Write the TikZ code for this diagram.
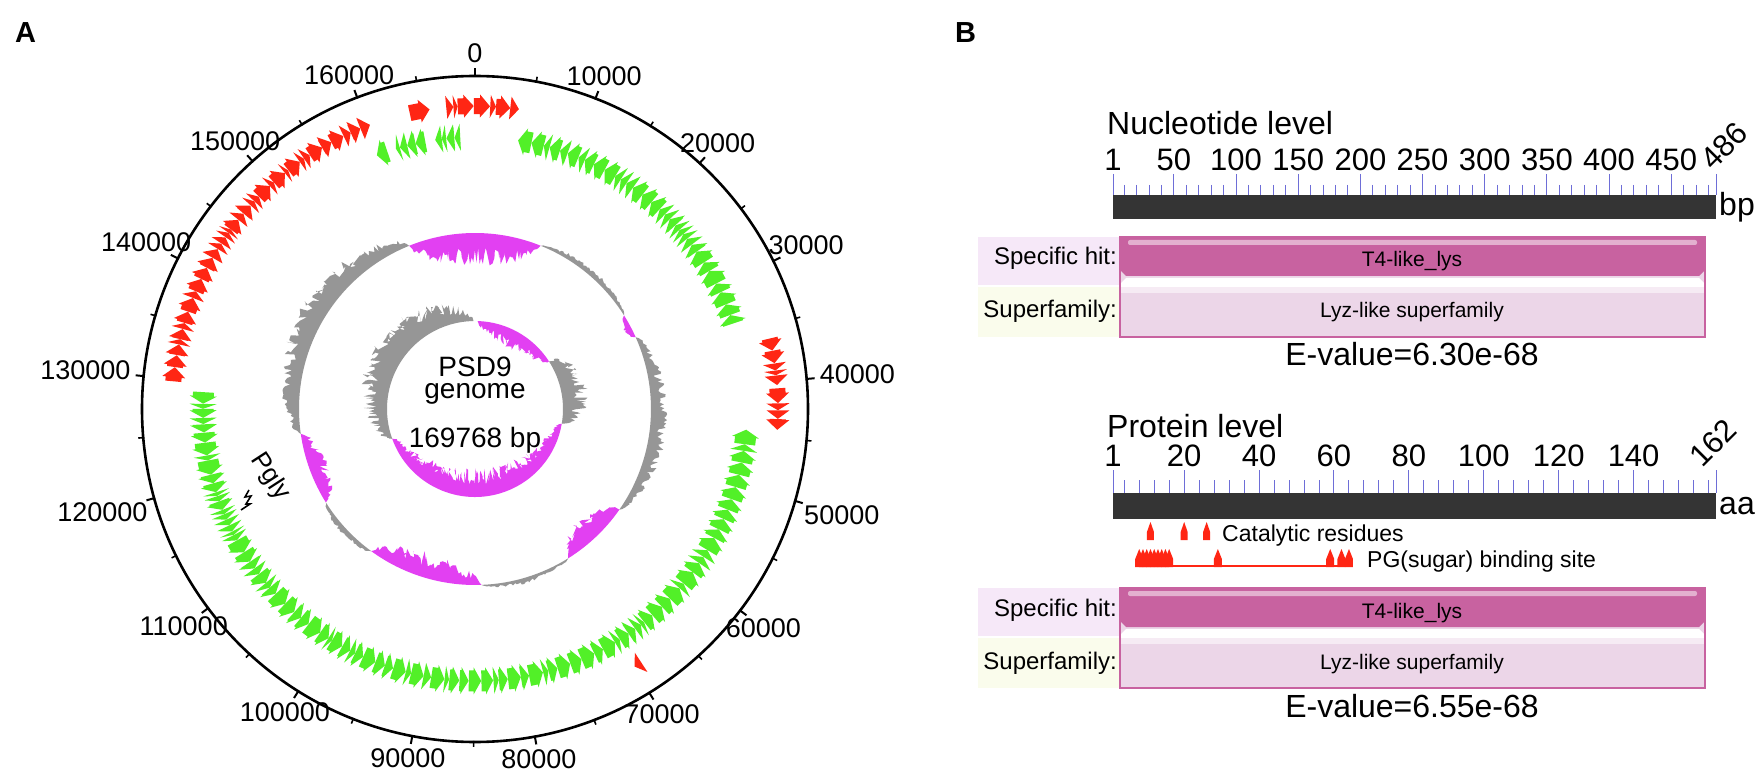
\documentclass[tikz,border=0pt]{standalone}
\usepackage{fontspec}
\setmainfont{Liberation Sans}
\usetikzlibrary{positioning}
\definecolor{genered}{RGB}{255,38,20}
\definecolor{genegreen}{RGB}{82,240,40}
\definecolor{gcgray}{RGB}{150,150,150}
\definecolor{gcmagenta}{RGB}{226,64,242}
\definecolor{hitpink}{RGB}{200,98,160}
\definecolor{hitlight}{RGB}{236,214,232}
\definecolor{hitlabel}{RGB}{246,232,248}
\definecolor{superlabel}{RGB}{250,252,236}
\definecolor{rulerblue}{RGB}{110,110,215}
\definecolor{bardark}{RGB}{52,52,52}

% gradi per kbp (360/169.768)
\newcommand{\degkb}{2.120541}
% pixel per bp e per aa sui righelli
\newcommand{\pxbp}{1.243299}
\newcommand{\pxaa}{3.745342}
% freccia di un gene: inizio, fine (kbp), raggio, verso (1 orario, -1 antiorario)
\newcommand{\genearrow}[4]{%
  \pgfmathsetmacro\ga{(#1)*\degkb-90}%
  \pgfmathsetmacro\gb{(#2)*\degkb-90}%
  \pgfmathsetmacro\gh{min(\headlen,\gb-\ga)}%
  \ifnum#4>0
    \pgfmathsetmacro\gtip{\gb}\pgfmathsetmacro\gbase{\gb-\gh}\pgfmathsetmacro\gtail{\ga}%
  \else
    \pgfmathsetmacro\gtip{\ga}\pgfmathsetmacro\gbase{\ga+\gh}\pgfmathsetmacro\gtail{\gb}%
  \fi
  \pgfmathsetmacro\rbo{#3+\bodyw}\pgfmathsetmacro\rbi{#3-\bodyw}%
  \pgfmathsetmacro\rhout{#3+\headw}\pgfmathsetmacro\rhin{#3-\headw}%
  \fill (\gtail:\rbo) arc[start angle=\gtail, end angle=\gbase, radius=\rbo]
    -- (\gbase:\rhout) -- (\gtip:#3) -- (\gbase:\rhin) -- (\gbase:\rbi)
    arc[start angle=\gbase, end angle=\gtail, radius=\rbi] -- cycle;%
}
% serie di geni contigui
\newcommand{\generun}[4]{%
  \pgfmathsetmacro\gpos{#1}%
  \loop
    \pgfmathsetmacro\gnext{min(\gpos+0.35+1.1*rnd,#2)}%
    \genearrow{\gpos}{\gnext}{#3}{#4}%
    \pgfmathsetmacro\gpos{\gnext+0.03*rnd}%
  \ifdim\gpos pt<#2pt\repeat
}
% banda GC: inizio, fine (kbp), raggio base, altezza (con segno), colore
\newcommand{\gcband}[5]{%
  \pgfmathsetmacro\gca{(#1)*\degkb-90}%
  \pgfmathsetmacro\gcb{(#2)*\degkb-90}%
  \pgfmathtruncatemacro\gcn{(\gcb-\gca)/0.6+2}%
  \fill[#5] (\gca:#3) -- plot[domain=\gca:\gcb, samples=\gcn]
    (\x:{#3+(#4)*(0.4+0.6*rnd)*sqrt(abs(sin((\x-\gca)/(\gcb-\gca)*180)))})
    -- (\gcb:#3) arc[start angle=\gcb, end angle=\gca, radius=#3] -- cycle;%
}

\begin{document}
\begin{tikzpicture}[x=1pt, y=1pt, yscale=-1,
    % --- stili ---
    panel_label/.style={font=\fontsize{29}{32}\selectfont\bfseries, anchor=north west, inner sep=0},
    tick_label/.style={font=\fontsize{27}{30}\selectfont, inner sep=1pt},
    centre_text/.style={font=\fontsize{28}{30}\selectfont, anchor=base, inner sep=0},
    ruler_num/.style={font=\fontsize{31}{34}\selectfont, anchor=base, inner sep=0},
    level_title/.style={font=\fontsize{32}{35}\selectfont, anchor=base west, inner sep=0},
    row_label/.style={font=\fontsize{24}{26}\selectfont, anchor=base east, inner sep=0},
    bar_text/.style={font=\fontsize{21}{23}\selectfont, anchor=base, inner sep=0},
    site_text/.style={font=\fontsize{23}{25}\selectfont, anchor=base west, inner sep=0},
    evalue/.style={font=\fontsize{32}{35}\selectfont, anchor=base, inner sep=0},
    ruler_tick/.style={draw=rulerblue, line width=1pt},
    site_spike/.style={fill=genered}
]
\fill[white] (0,0) rectangle (1762,775);
\useasboundingbox (0,0) rectangle (1762,775);
\pgfmathsetseed{17}

% 1. Pannello A: mappa circolare del genoma
\node[panel_label] (labA) at (15,22) {A};
\begin{scope}[shift={(475,409)}]
  \draw[line width=2.6pt] (0,0) circle[radius=333];
  % tacche e posizioni
  \foreach \k/\txt in {0/0, 1/10000, 2/20000, 3/30000, 4/40000, 5/50000, 6/60000,
      7/70000, 8/80000, 9/90000, 10/100000, 11/110000, 12/120000, 13/130000,
      14/140000, 15/150000, 16/160000} {
    \pgfmathsetmacro\ang{\k*10*\degkb-90}
    \pgfmathsetmacro\mang{(\k+0.5)*10*\degkb-90}
    \pgfmathtruncatemacro\anc{mod(540-\ang,360)}
    \draw[line width=2pt] (\ang:332) -- (\ang:341);
    \draw[line width=1.6pt] (\mang:332) -- (\mang:338);
    \node[tick_label, anchor=\anc] (pos\k) at (\ang:345) {\txt};
  }

  % 2. geni sul filamento diretto (rossi)
  \begin{scope}[fill=genered]
    \def\bodyw{8}\def\headw{11.5}\def\headlen{1.9}
    \generun{129.8}{160.2}{303}{1}
    \genearrow{163.9}{165.7}{303}{1}
    \generun{167.2}{173.7}{303}{1}
    \generun{36.1}{40.3}{303}{1}
    \generun{40.6}{44.3}{303}{1}
    \genearrow{69.2}{69.9}{303}{1}
  \end{scope}

  % 3. geni sul filamento inverso (verdi)
  \begin{scope}[fill=genegreen]
    \def\bodyw{10.5}\def\headw{13.5}\def\headlen{1.6}
    \genearrow{159.8}{160.9}{272}{-1}
    \generun{161.8}{164.8}{272}{-1}
    \generun{165.8}{168.3}{272}{-1}
    \generun{4.3}{33.8}{272}{-1}
    \generun{44.5}{129.0}{272}{-1}
  \end{scope}

  % 4. contenuto GC (anello centrale)
  \gcband{159.4}{180.1}{176}{-34}{gcmagenta}
  \gcband{10.4}{27.3}{176}{7}{gcgray}
  \gcband{27.3}{31.1}{176}{-10}{gcmagenta}
  \gcband{31.1}{58.9}{176}{18}{gcgray}
  \gcband{58.9}{69.8}{176}{-26}{gcmagenta}
  \gcband{69.8}{83.9}{176}{6}{gcgray}
  \gcband{83.9}{101.9}{176}{-26}{gcmagenta}
  \gcband{101.9}{112.2}{176}{7}{gcgray}
  \gcband{112.2}{123.5}{176}{-20}{gcmagenta}
  \gcband{123.5}{159.4}{176}{27}{gcgray}

  % 5. GC skew (anello interno)
  \gcband{0.8}{27}{88}{-19}{gcmagenta}
  \gcband{27}{47}{88}{28}{gcgray}
  \gcband{47}{118}{88}{-29}{gcmagenta}
  \gcband{118}{169.3}{88}{32}{gcgray}

  % 6. testo centrale e promotore
  \node[centre_text] (gname) at (0,-32) {PSD9};
  \node[centre_text] (gword) at (0,-10) {genome};
  \node[centre_text] (gsize) at (0,38) {169768 bp};
  \node[font=\fontsize{26}{28}\selectfont, rotate=-57, inner sep=0] (pgly) at (-205,68) {Pgly};
  \draw[line width=1.6pt] (-226,81) -- (-230,88) -- (-224,87) -- (-229,95) -- (-225,95) -- (-234,101);
\end{scope}

% 7. Pannello B: dominio conservato
\node[panel_label] (labB) at (955,22) {B};

% --- livello nucleotidico ---
\node[level_title] (ntitle) at (1107,135) {Nucleotide level};
\foreach \n in {10,20,...,480}
  \draw[ruler_tick] ({1113+(\n-1)*\pxbp},185) -- ++(0,10);
\foreach \n in {1,50,100,150,200,250,300,350,400,450,486}
  \draw[ruler_tick] ({1113+(\n-1)*\pxbp},174) -- ++(0,21);
\foreach \n in {1,50,100,150,200,250,300,350,400,450}
  \node[ruler_num] (nt\n) at ({1113+(\n-1)*\pxbp},171) {\n};
\node[ruler_num, anchor=base west, rotate=45] (nt486) at (1713,172) {486};
\fill[bardark] (1113,195) rectangle (1716,219);
\node[level_title] (ntunit) at (1719,216) {bp};

% --- livello proteico ---
\node[level_title] (ptitle) at (1107,438) {Protein level};
\foreach \n in {4,8,...,160}
  \draw[ruler_tick] ({1113+(\n-1)*\pxaa},480) -- ++(0,13);
\foreach \n in {1,20,40,60,80,100,120,140,162}
  \draw[ruler_tick] ({1113+(\n-1)*\pxaa},470) -- ++(0,23);
\foreach \n in {1,20,40,60,80,100,120,140}
  \node[ruler_num] (pr\n) at ({1113+(\n-1)*\pxaa},467) {\n};
\node[ruler_num, anchor=base west, rotate=45] (pr162) at (1702,469) {162};
\fill[bardark] (1113,493) rectangle (1716,519);
\node[level_title] (prunit) at (1719,514) {aa};

% siti funzionali
\foreach \a in {11,20,26}
  \fill[site_spike] ({1113+(\a-1)*\pxaa-3.5},540) -- ++(0,-8) -- ++(3.5,-10) -- ++(3.5,10) -- ++(0,8) -- cycle;
\node[site_text] (cat) at (1222,541) {Catalytic residues};
\draw[genered, line width=1.6pt] (1135,566) -- (1352,566);
\foreach \a in {8,9,10,11,12,13,14,15,16,29,59,62,64}
  \fill[site_spike] ({1113+(\a-1)*\pxaa-4},567) -- ++(0,-8) -- ++(4,-10) -- ++(4,10) -- ++(0,8) -- cycle;
\node[site_text] (pg) at (1367,567) {PG(sugar) binding site};

% righe dei risultati
\foreach \dy/\nm/\ev in {0/nt/6.30e-68, 351/pr/6.55e-68} {
  \begin{scope}[shift={(0,\dy)}]
    \fill[hitlabel] (978,237) rectangle (1119,285);
    \fill[superlabel] (978,287) rectangle (1119,337);
    \fill[hitlight] (1120,237) rectangle (1705,337);
    \fill[hitpink] (1120,237) -- (1705,237) -- (1705,270) -- (1699,276) -- (1126,276) -- (1120,270) -- cycle;
    \fill[white, opacity=0.5, rounded corners=2pt] (1128,240) rectangle (1697,245);
    \fill[white] (1120,284) -- (1126,278) -- (1699,278) -- (1705,284) -- (1705,287) -- (1120,287) -- cycle;
    \fill[hitlight!50!white] (1120,287) rectangle (1705,293);
    \draw[hitpink, line width=2pt] (1120,237) rectangle (1705,337);
    \node[row_label] (\nm hitlab) at (1117,265) {Specific hit:};
    \node[bar_text] (\nm hit) at (1412,267) {T4-like\_lys};
    \node[row_label] (\nm suplab) at (1117,318) {Superfamily:};
    \node[bar_text] (\nm sup) at (1412,318) {Lyz-like superfamily};
    \node[evalue] (\nm eval) at (1412,366) {E-value=\ev};
  \end{scope}
}
\end{tikzpicture}
\end{document}
